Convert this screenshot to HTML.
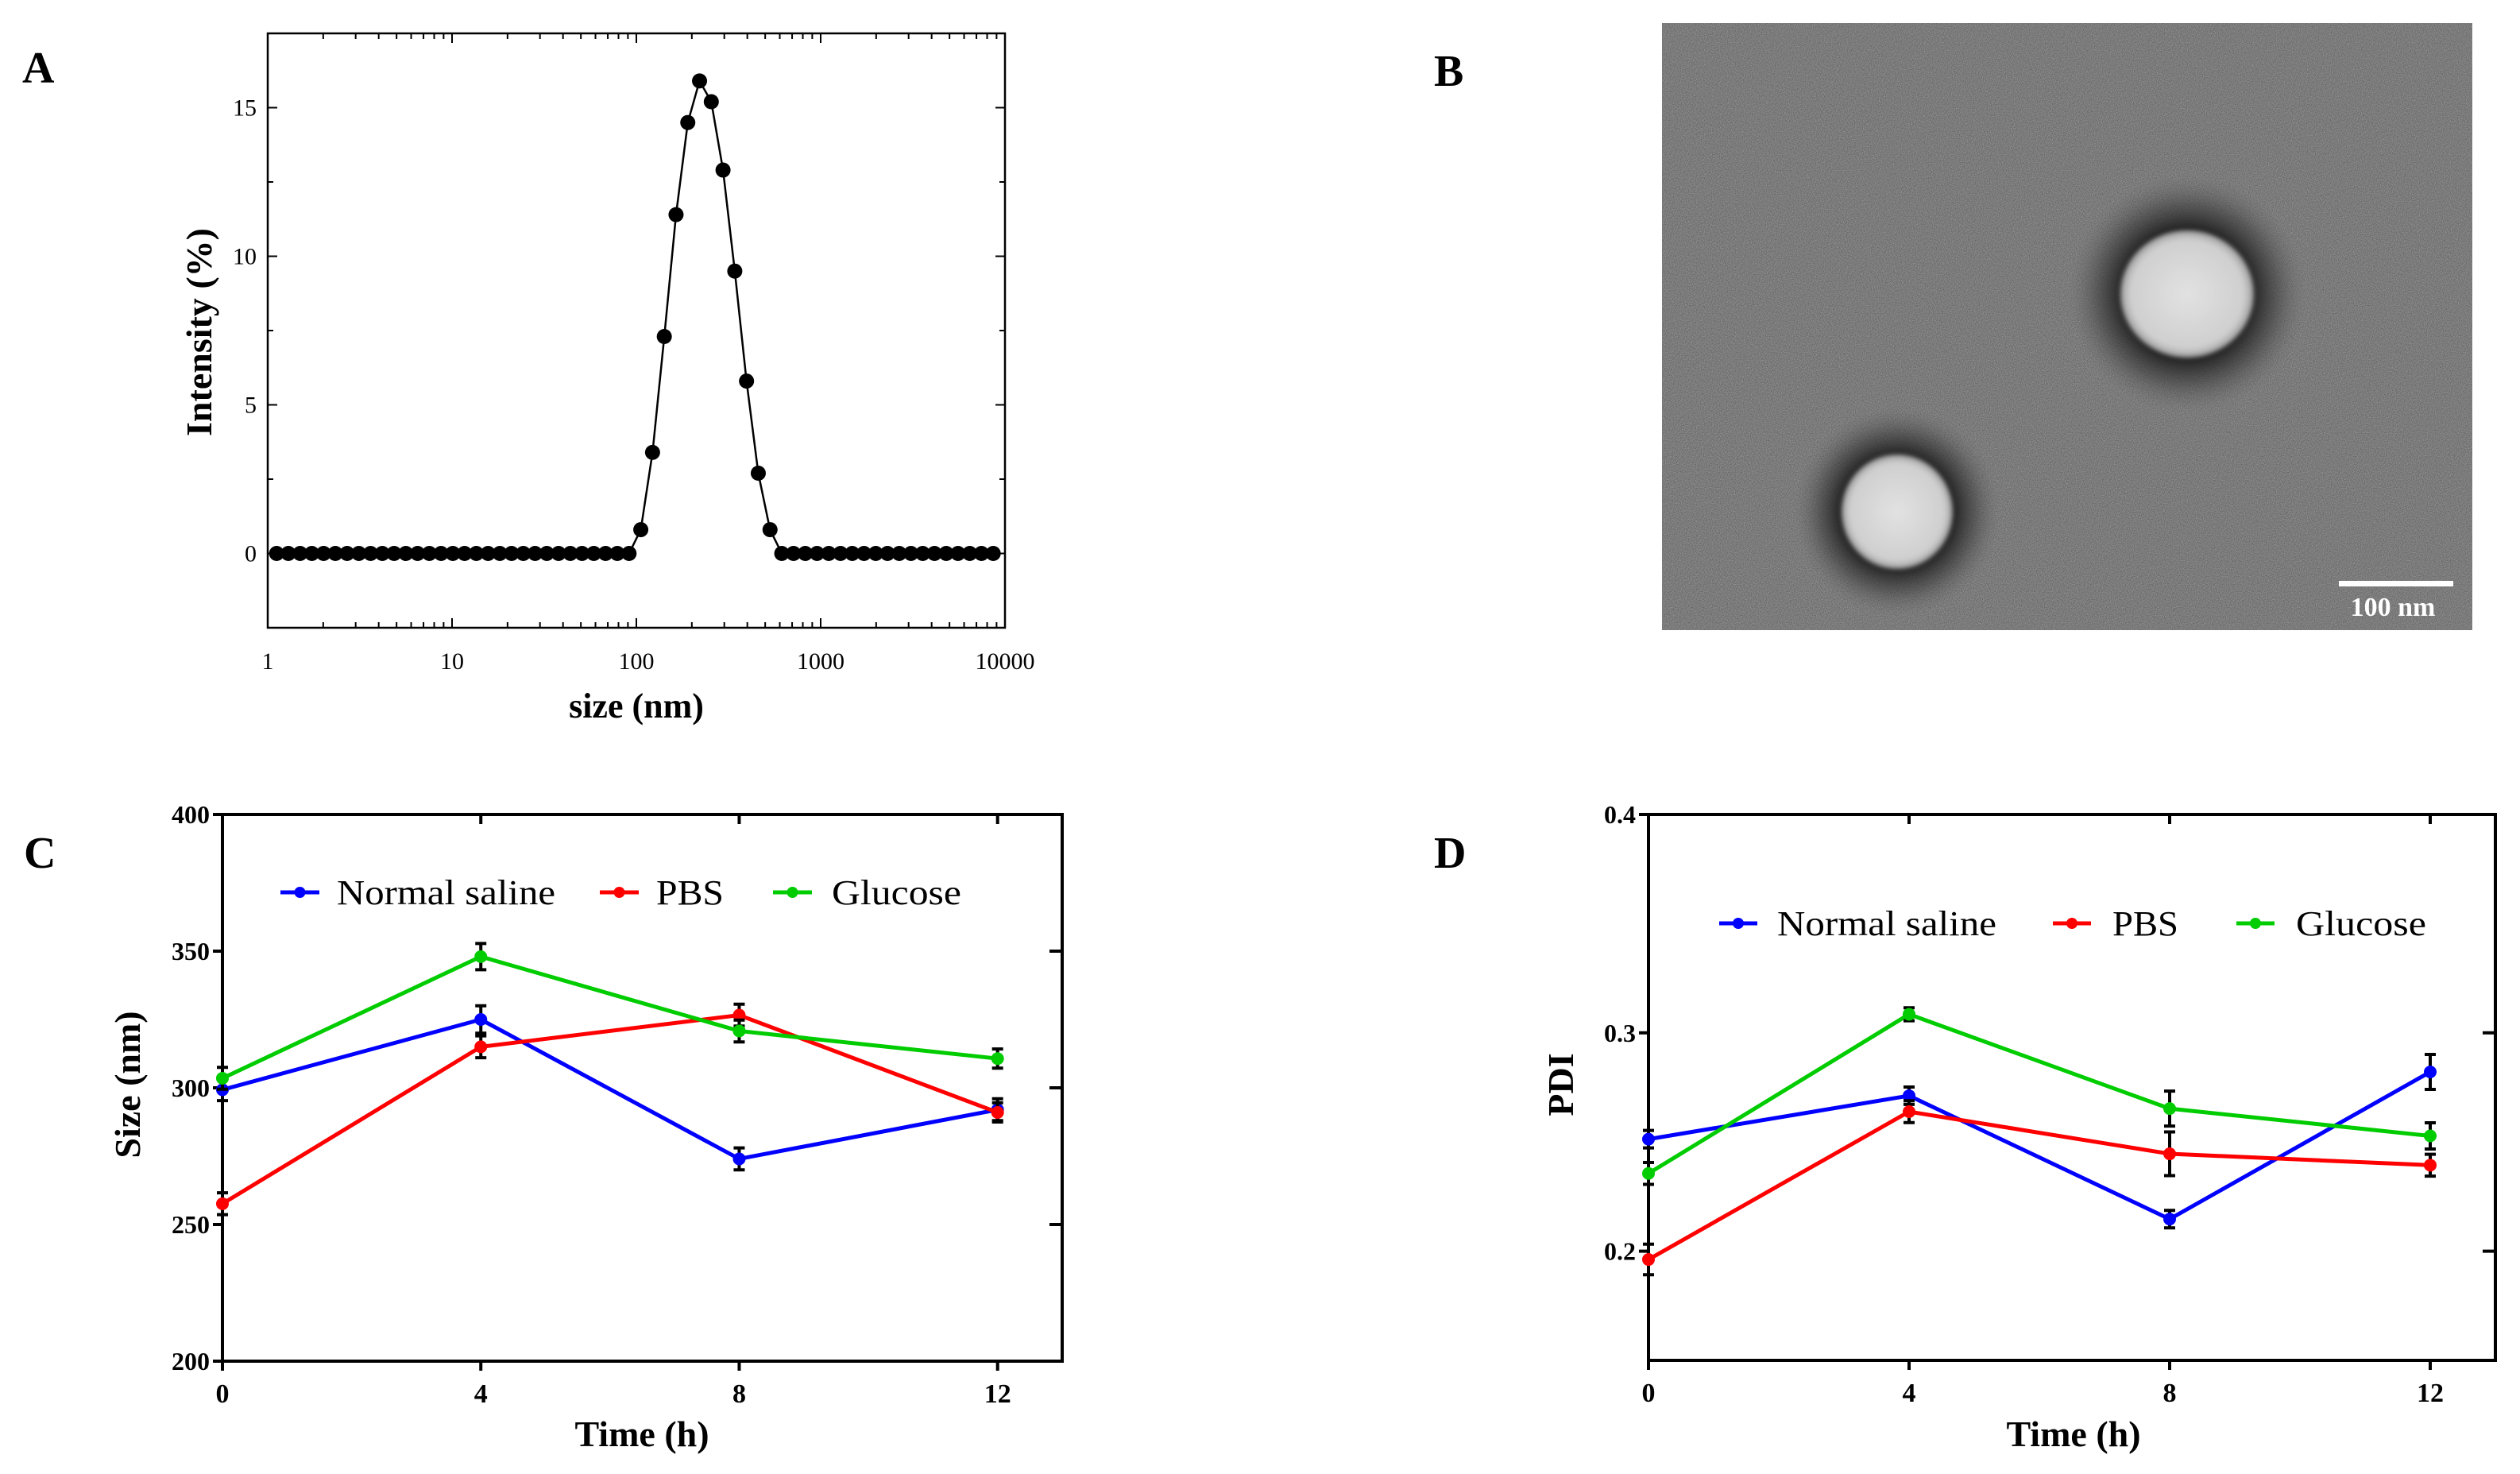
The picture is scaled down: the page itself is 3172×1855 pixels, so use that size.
<!DOCTYPE html>
<html><head><meta charset="utf-8"><style>
html,body{margin:0;padding:0;background:#fff}
svg{display:block;font-family:"Liberation Serif",serif}
</style></head><body>
<svg id="fig" xmlns="http://www.w3.org/2000/svg" width="3172" height="1855" viewBox="0 0 3172 1855">
<defs>
<filter id="noise" x="0" y="0" width="100%" height="100%">
<feTurbulence type="fractalNoise" baseFrequency="0.9" numOctaves="2" seed="3" result="n"/>
<feColorMatrix type="matrix" values="0 0 0 0 0.35  0 0 0 0 0.35  0 0 0 0 0.35  1.4 0 0 0 -0.45"/>
</filter>
<filter id="noise2" x="0" y="0" width="100%" height="100%">
<feTurbulence type="fractalNoise" baseFrequency="1.3" numOctaves="1" seed="8"/>
<feColorMatrix type="matrix" values="0 0 0 0 1  0 0 0 0 1  0 0 0 0 1  1.2 0 0 0 -0.5"/>
</filter>
<filter id="blur"><feGaussianBlur stdDeviation="3"/></filter>
<radialGradient id="halo" cx="0.5" cy="0.5" r="0.5">
<stop offset="0.55" stop-color="#1a1a1a" stop-opacity="0.9"/>
<stop offset="0.75" stop-color="#333" stop-opacity="0.5"/>
<stop offset="1" stop-color="#666" stop-opacity="0"/>
</radialGradient>
<radialGradient id="core" cx="0.5" cy="0.5" r="0.5">
<stop offset="0" stop-color="#e2e2e2"/>
<stop offset="0.85" stop-color="#cfcfcf"/>
<stop offset="1" stop-color="#9a9a9a"/>
</radialGradient>
</defs>

<text x="28" y="104" font-size="56" font-weight="bold">A</text>
<text x="1805" y="108" font-size="56" font-weight="bold">B</text>
<text x="30" y="1092" font-size="56" font-weight="bold">C</text>
<text x="1805" y="1092" font-size="56" font-weight="bold">D</text>

<g>
<rect x="2092" y="29" width="1020" height="764" fill="#636363"/>
<rect x="2092" y="29" width="1020" height="764" fill="#000" filter="url(#noise)"/>
<rect x="2092" y="29" width="1020" height="764" fill="#000" filter="url(#noise2)" opacity="0.55"/>
<ellipse cx="2753" cy="370" rx="150" ry="150" fill="url(#halo)"/>
<ellipse cx="2753" cy="370" rx="84" ry="80" fill="url(#core)" filter="url(#blur)"/>
<ellipse cx="2388" cy="644" rx="130" ry="132" fill="url(#halo)"/>
<ellipse cx="2388" cy="644" rx="70" ry="72" fill="url(#core)" filter="url(#blur)"/>
<rect x="2944" y="731" width="144" height="7" fill="#fff"/>
<text x="3012" y="775" font-size="34" font-weight="bold" fill="#fff" text-anchor="middle">100 nm</text>
</g>

<g id="gA"></g>
<g id="gC"></g>
<g id="gD"></g>
</svg>
<script>
const aBinStart = 7, aBinEnd = 68;
const aPeakBins = [38,39,40,41,42,43,44,45,46,47,48,49];
const aPeakValues = [0.8,3.4,7.3,11.4,14.5,15.9,15.2,12.9,9.5,5.8,2.7,0.8];
const aXTicks = [1,10,100,1000,10000];
const aXTickLabels = ["1","10","100","1000","10000"];
const aYTicks = [0,5,10,15];
const aYTickLabels = ["0","5","10","15"];

const timeCats = [0,4,8,12];
const cSaline = [299.3,325,274,292];
const cSalineErr = [4,5,4,4];
const cPBS = [257.6,315,326.6,291];
const cPBSErr = [4,4,4,3.5];
const cGlucose = [303.5,348,320.8,310.7];
const cGlucoseErr = [4,4.8,4,3.5];
const cYTicks = [200,250,300,350,400];
const cYTickLabels = ["200","250","300","350","400"];

const dSaline = [0.2513,0.2712,0.2147,0.2821];
const dSalineErr = [0.004,0.004,0.004,0.008];
const dPBS = [0.1962,0.2639,0.2446,0.2394];
const dPBSErr = [0.007,0.005,0.010,0.005];
const dGlucose = [0.2356,0.3085,0.2653,0.2528];
const dGlucoseErr = [0.005,0.003,0.008,0.006];
const dYTicks = [0.2,0.3,0.4];
const dYTickLabels = ["0.2","0.3","0.4"];
const xTickLabels = ["0","4","8","12"];

const NS = "http://www.w3.org/2000/svg";
function mk(parent, tag, attrs, text){
  const e = document.createElementNS(NS, tag);
  for (const k in attrs) e.setAttribute(k, attrs[k]);
  if (text !== undefined) e.textContent = text;
  parent.appendChild(e);
  return e;
}

(function(){
  const g = document.getElementById('gA');
  const L=337,R=1265,T=42,B=790, yMin=-2.5, yMax=17.5;
  const xs = v => L + Math.log10(v)*(R-L)/4;
  const ys = v => B - (v-yMin)*(B-T)/(yMax-yMin);
  let e = mk(g,'rect',{x:L,y:T,width:R-L,height:B-T,fill:'none',stroke:'#000','stroke-width':2.5});
  
  
  for (let d=0; d<4; d++){
    for (let m=1;m<=9;m++){
      const v = Math.pow(10,d)*m; const x = xs(v); const len = m===1?12:7;
      mk(g,'line',{x1:x,y1:B,x2:x,y2:B-len,stroke:'#000','stroke-width':2});
      mk(g,'line',{x1:x,y1:T,x2:x,y2:T+len,stroke:'#000','stroke-width':2});
    }
  }
  aXTicks.forEach((v,i)=>{
    e = mk(g,'text',{x:xs(v),y:842,'font-size':30,'text-anchor':'middle'},aXTickLabels[i]);
    
    
  });
  for (let v=-2.5; v<=17.5; v+=2.5){
    const y = ys(v); const len = (Math.abs(v%5)<1e-9)?12:7;
    mk(g,'line',{x1:L,y1:y,x2:L+len,y2:y,stroke:'#000','stroke-width':2});
    mk(g,'line',{x1:R,y1:y,x2:R-len,y2:y,stroke:'#000','stroke-width':2});
  }
  aYTicks.forEach((v,i)=>{
    e = mk(g,'text',{x:L-14,y:ys(v)+10,'font-size':30,'text-anchor':'end'},aYTickLabels[i]);
    
    
  });
  e = mk(g,'text',{x:801,y:903,'font-size':44,'font-weight':'bold','text-anchor':'middle'},'size (nm)');
  
  
  e = mk(g,'text',{x:0,y:0,'font-size':46,'font-weight':'bold','text-anchor':'middle',transform:'translate(266,418) rotate(-90)'},'Intensity (%)');
  
  
  const pts = [];
  for (let k=aBinStart;k<=aBinEnd;k++){
    const size = 0.4*Math.pow(10, k*Math.log10(25000)/69);
    const idx = aPeakBins.indexOf(k);
    const val = idx>=0 ? aPeakValues[idx] : 0;
    pts.push([xs(size), ys(val)]);
  }
  e = mk(g,'polyline',{points:pts.map(p=>p.join(',')).join(' '),fill:'none',stroke:'#000','stroke-width':2.5});
  
  
  pts.forEach(p=>{
    const c = mk(g,'circle',{cx:p[0],cy:p[1],r:9.5,fill:'#000'});
    
    
  });
})();

function linePanel(gid, L, R, T, B, yMin, yMax, yTicks, yTickLabels, series, legend, xTitleX, yTitle, yTitleX, tag){
  const g = document.getElementById(gid);
  const xs = v => L + v*(R-L)/13;
  const ys = v => B - (v-yMin)*(B-T)/(yMax-yMin);
  let e;
  e = mk(g,'rect',{x:L,y:T,width:R-L,height:B-T,fill:'none',stroke:'#000','stroke-width':4});
  
  
  timeCats.forEach((t,i)=>{
    const x = xs(t);
    mk(g,'line',{x1:x,y1:B,x2:x,y2:B+12,stroke:'#000','stroke-width':4});
    mk(g,'line',{x1:x,y1:T,x2:x,y2:T+12,stroke:'#000','stroke-width':4});
    e = mk(g,'text',{x:x,y:B+52,'font-size':34,'font-weight':'bold','text-anchor':'middle'},xTickLabels[i]);
    
    
  });
  yTicks.forEach((v,i)=>{
    const y = ys(v);
    mk(g,'line',{x1:L-12,y1:y,x2:L,y2:y,stroke:'#000','stroke-width':4});
    mk(g,'line',{x1:R,y1:y,x2:R-16,y2:y,stroke:'#000','stroke-width':4});
    e = mk(g,'text',{x:L-16,y:y+11,'font-size':32,'font-weight':'bold','text-anchor':'end'},yTickLabels[i]);
    
    
  });
  e = mk(g,'text',{x:xTitleX,y:1820,'font-size':46,'font-weight':'bold','text-anchor':'middle'},'Time (h)');
  
  
  e = mk(g,'text',{x:0,y:0,'font-size':46,'font-weight':'bold','text-anchor':'middle',transform:'translate('+yTitleX+',1365) rotate(-90)'},yTitle);
  
  
  series.forEach(s=>{
    const pts = timeCats.map((t,i)=>[xs(t), ys(s.vals[i])]);
    e = mk(g,'polyline',{points:pts.map(p=>p.join(',')).join(' '),fill:'none',stroke:s.color,'stroke-width':5});
    
    
    timeCats.forEach((t,i)=>{
      const x = xs(t), y1 = ys(s.vals[i]+s.err[i]), y2 = ys(s.vals[i]-s.err[i]);
      const eb = mk(g,'path',{d:`M${x},${y1}V${y2}M${x-7},${y1}H${x+7}M${x-7},${y2}H${x+7}`,stroke:'#000','stroke-width':4,fill:'none'});
      
      
      const c = mk(g,'circle',{cx:x,cy:ys(s.vals[i]),r:8,fill:s.color});
      
      
    });
  });
  legend.forEach(l=>{
    const lg = mk(g,'g',{});
    
    
    mk(lg,'line',{x1:l.x1,y1:l.y,x2:l.x2,y2:l.y,stroke:l.color,'stroke-width':5});
    mk(lg,'circle',{cx:(l.x1+l.x2)/2,cy:l.y,r:7,fill:l.color});
    mk(lg,'text',{x:l.tx,y:l.y+15,'font-size':44,textLength:l.tw,lengthAdjust:'spacingAndGlyphs'},l.label);
  });
}

linePanel('gC',280,1337,1025,1713,200,400,cYTicks,cYTickLabels,[
  {name:'normal-saline',color:'#0000ff',vals:cSaline,err:cSalineErr},
  {name:'pbs',color:'#ff0000',vals:cPBS,err:cPBSErr},
  {name:'glucose',color:'#00cc00',vals:cGlucose,err:cGlucoseErr}
],[
  {name:'normal-saline',color:'#0000ff',x1:353,x2:402,tx:424,tw:275,y:1123,label:'Normal saline'},
  {name:'pbs',color:'#ff0000',x1:755,x2:804,tx:826,tw:85,y:1123,label:'PBS'},
  {name:'glucose',color:'#00cc00',x1:973,x2:1022,tx:1047,tw:163,y:1123,label:'Glucose'}
],808,'Size (nm)',176,'c');

linePanel('gD',2075,3141,1025,1712,0.15,0.4,dYTicks,dYTickLabels,[
  {name:'normal-saline',color:'#0000ff',vals:dSaline,err:dSalineErr},
  {name:'pbs',color:'#ff0000',vals:dPBS,err:dPBSErr},
  {name:'glucose',color:'#00cc00',vals:dGlucose,err:dGlucoseErr}
],[
  {name:'normal-saline',color:'#0000ff',x1:2164,x2:2212,tx:2237,tw:276,y:1162,label:'Normal saline'},
  {name:'pbs',color:'#ff0000',x1:2584,x2:2632,tx:2659,tw:83,y:1162,label:'PBS'},
  {name:'glucose',color:'#00cc00',x1:2815,x2:2863,tx:2890,tw:164,y:1162,label:'Glucose'}
],2610,'PDI',1980,'d');
</script>
</body></html>
